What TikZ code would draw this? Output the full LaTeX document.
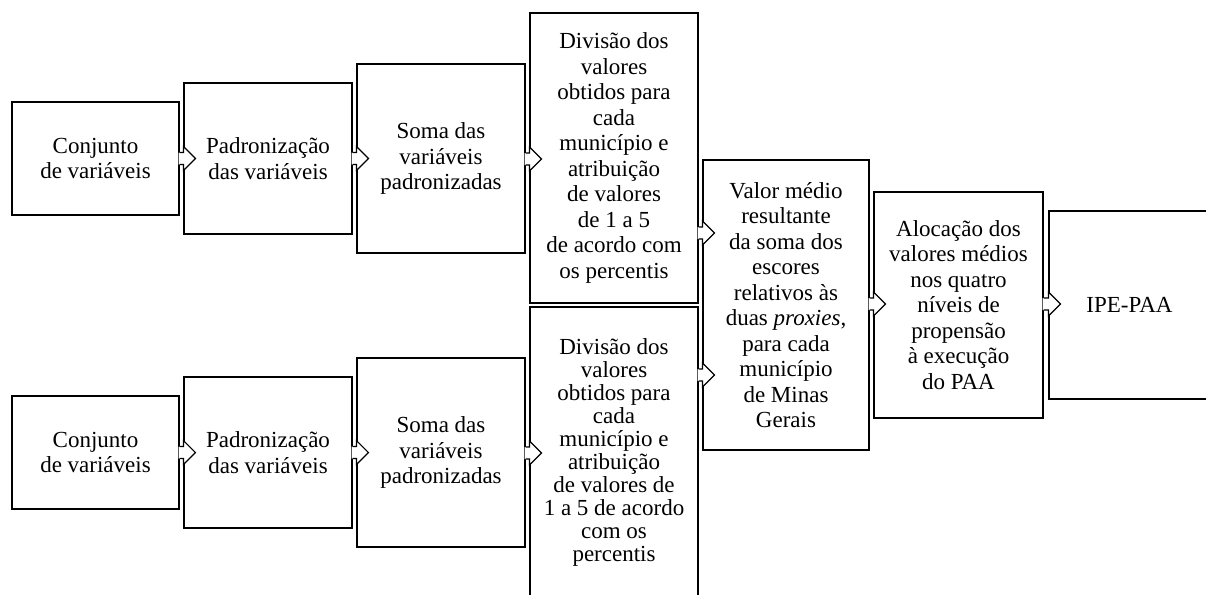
\documentclass[tikz,border=0pt]{standalone}
\usepackage{fontspec}
\setmainfont{Liberation Serif}
\usetikzlibrary{calc}

% open block arrow from #1 to #2 at height #3
\newcommand{\flowarrow}[3]{%
  \path (#1.east |- 0,#3) coordinate (fa-s) (#2.west |- 0,#3) coordinate (fa-t);
  \fill[white] ($(fa-s)+(-1,-6)$) -- ($(fa-t)+(0,-6)$) -- ($(fa-t)+(0,-12)$) -- ($(fa-t)+(12,0)$)
    -- ($(fa-t)+(0,12)$) -- ($(fa-t)+(0,6)$) -- ($(fa-s)+(-1,6)$) -- cycle;
  \draw[chevron] ($(fa-s)+(0,-6)$) -- ($(fa-t)+(0,-6)$) -- ($(fa-t)+(0,-12)$) -- ($(fa-t)+(12,0)$)
    -- ($(fa-t)+(0,12)$) -- ($(fa-t)+(0,6)$) -- ($(fa-s)+(0,6)$);
}

\begin{document}
\begin{tikzpicture}[
  x=1pt, y=-1pt,
  stage/.style 2 args={draw, line width=1.2pt, align=center, inner sep=0pt,
    minimum width=#1, minimum height=#2, font=\fontsize{23}{25.5}\selectfont},
  chevron/.style={line width=1.2pt, line join=miter}
]
\useasboundingbox (0,0) rectangle (1206,594);

% upper branch
\node[stage={167}{113}] (conj1) at (95.5,158.5) {Conjunto\\de variáveis};
\node[stage={168}{151}] (padr1) at (268,158.5) {Padronização\\das variáveis};
\node[stage={168}{189}] (soma1) at (441,158.5) {Soma das\\variáveis\\padronizadas};
\node[stage={168}{290}] (divi1) at (614,158) {Divisão dos\\valores\\obtidos para\\cada\\município e\\atribuição\\de valores\\de 1 a 5\\de acordo com\\os percentis};

% lower branch
\node[stage={167}{113}] (conj2) at (95.5,452.5) {Conjunto\\de variáveis};
\node[stage={168}{151}] (padr2) at (268,452.5) {Padronização\\das variáveis};
\node[stage={168}{189}] (soma2) at (441,452.5) {Soma das\\variáveis\\padronizadas};
\node[stage={168}{291}, font=\fontsize{23}{23}\selectfont] (divi2) at (614,452.5) {Divisão dos\\valores\\obtidos para\\cada\\município e\\atribuição\\de valores de\\1 a 5 de acordo\\com os\\percentis};

% merge
\node[stage={166}{290}] (media) at (786,305) {Valor médio\\resultante\\da soma dos\\escores\\relativos às\\duas \textit{proxies},\\para cada\\município\\de Minas\\Gerais};
\node[stage={169}{226}] (aloc) at (958.5,305) {Alocação dos\\valores médios\\nos quatro\\níveis de\\propensão\\à execução\\do PAA};
\node[stage={161}{188}] (ipe) at (1129.5,305) {IPE-PAA};

\flowarrow{conj1}{padr1}{158.5}
\flowarrow{padr1}{soma1}{158.5}
\flowarrow{soma1}{divi1}{159}
\flowarrow{divi1}{media}{233}
\flowarrow{conj2}{padr2}{452.5}
\flowarrow{padr2}{soma2}{452.5}
\flowarrow{soma2}{divi2}{453}
\flowarrow{divi2}{media}{375}
\flowarrow{media}{aloc}{304}
\flowarrow{aloc}{ipe}{304}
\end{tikzpicture}
\end{document}
